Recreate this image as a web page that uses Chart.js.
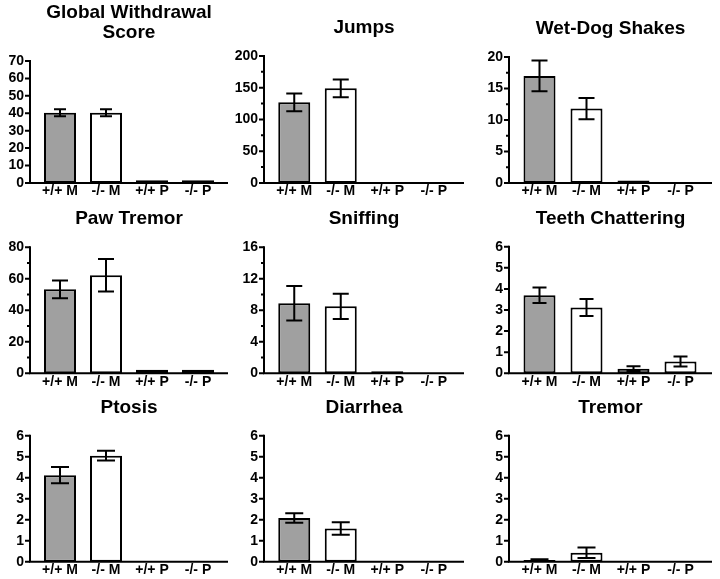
<!DOCTYPE html>
<html><head><meta charset="utf-8">
<script src="https://cdn.jsdelivr.net/npm/chart.js@4"></script>
<style>
html,body{margin:0;padding:0;background:#fff;}
#wrap{position:relative;width:720px;height:579px;overflow:hidden;background:#fff;}
#wrap canvas{position:absolute;}
</style></head><body><div id="wrap"></div>
<script>
// ---- data ----
const categories = ['+/+ M', '-/- M', '+/+ P', '-/- P'];
const titles = [['Global Withdrawal', 'Score'], 'Jumps', 'Wet-Dog Shakes', 'Paw Tremor', 'Sniffing', 'Teeth Chattering', 'Ptosis', 'Diarrhea', 'Tremor'];
const globalMean = [40.3, 40.3, 1.5, 1.5];
const globalErr = [2, 2, 0, 0];
const jumpsMean = [127, 149, 0, 0];
const jumpsErr = [14, 14, 0, 0];
const wetDogMean = [17, 11.8, 0.4, 0];
const wetDogErr = [2.45, 1.7, 0, 0];
const pawMean = [53.3, 62.3, 2.2, 2.2];
const pawErr = [5.6, 10.3, 0, 0];
const sniffMean = [8.9, 8.5, 0.25, 0];
const sniffErr = [2.2, 1.6, 0, 0];
const teethMean = [3.7, 3.12, 0.22, 0.56];
const teethErr = [0.37, 0.4, 0.11, 0.24];
const ptosisMean = [4.12, 5.05, 0, 0];
const ptosisErr = [0.39, 0.23, 0, 0];
const diarrheaMean = [2.08, 1.58, 0, 0];
const diarrheaErr = [0.23, 0.3, 0, 0];
const tremorMean = [0.08, 0.43, 0, 0];
const tremorErr = [0.04, 0.25, 0, 0];
const means = [globalMean, jumpsMean, wetDogMean, pawMean, sniffMean, teethMean, ptosisMean, diarrheaMean, tremorMean];
const errs = [globalErr, jumpsErr, wetDogErr, pawErr, sniffErr, teethErr, ptosisErr, diarrheaErr, tremorErr];
const yMax = [70, 200, 20, 80, 16, 6, 6, 6, 6];
const yStep = [10, 50, 5, 20, 4, 1, 1, 1, 1];
const yMinor = [10, 25, 2.5, 10, 2, 1, 1, 1, 1];

// ---- layout (styles) ----
const colLeft = [0, 215, 460];
const colW = [240, 260, 260];
const rowTop = [0, 195, 385];
const X_AREA = 28;
const axisXAbs = [30, 264, 509];
const catWAbs = [46, 46.5, 47];
const axisEndAbs = [228, 464, 712];
const topAbs = [61, 56, 57, 247.3, 247.3, 246.7, 435.7, 435.7, 435.7];
const bottomAbs = [182.9, 373.3, 561.7];
const capW = [12, 16, 16, 16, 16, 14, 18, 18, 18];
const GRAY = '#a0a0a0';
const FONT = '"Liberation Sans", Arial, Helvetica, sans-serif';

const panelPlugin = {
  id: 'panel',
  afterDatasetsDraw(chart, args, o) {
    const ctx = chart.ctx, ys = chart.scales.y;
    const meta = chart.getDatasetMeta(0);
    ctx.save();
    ctx.strokeStyle = '#000';
    ctx.lineWidth = 2;
    ctx.lineCap = 'butt';
    // error bars
    o.err.forEach((e, i) => {
      if (!e) return;
      const v = o.mean[i];
      const cx = meta.data[i].x;
      const yt = ys.getPixelForValue(v + e), yb = ys.getPixelForValue(Math.max(v - e, 0));
      ctx.beginPath();
      ctx.moveTo(cx, yt); ctx.lineTo(cx, yb);
      ctx.moveTo(cx - o.cap / 2, yt); ctx.lineTo(cx + o.cap / 2, yt);
      ctx.moveTo(cx - o.cap / 2, yb); ctx.lineTo(cx + o.cap / 2, yb);
      ctx.stroke();
    });
    // axes
    const yTop = ys.getPixelForValue(o.max), y0 = ys.getPixelForValue(0);
    ctx.beginPath();
    ctx.moveTo(o.ax, yTop - 1); ctx.lineTo(o.ax, y0 + 1);
    ctx.moveTo(o.ax - 1, y0); ctx.lineTo(o.axEnd, y0);
    ctx.stroke();
    const n = Math.round(o.max / o.minor);
    ctx.beginPath();
    for (let k = 0; k <= n; k++) {
      const v = k * o.minor;
      const r = v / o.step;
      const major = Math.abs(r - Math.round(r)) < 1e-6;
      const len = major ? 5 : 3;
      const py = ys.getPixelForValue(v);
      ctx.moveTo(o.ax - len, py); ctx.lineTo(o.ax, py);
    }
    ctx.stroke();
    // title
    ctx.fillStyle = '#000';
    ctx.font = 'bold 19px ' + FONT;
    ctx.textAlign = 'center';
    ctx.textBaseline = 'alphabetic';
    const lines = Array.isArray(o.title) ? o.title : [o.title];
    const cx = (o.ax + o.axEnd) / 2;
    lines.forEach((t, i) => {
      ctx.fillText(t, cx, yTop - 23 - (lines.length - 1 - i) * 20);
    });
    ctx.restore();
  }
};

const wrap = document.getElementById('wrap');
for (let p = 0; p < 9; p++) {
  const c = p % 3, r = Math.floor(p / 3);
  const cv = document.createElement('canvas');
  const W = colW[c];
  const H = Math.round(bottomAbs[r] - rowTop[r] + X_AREA);
  cv.width = W; cv.height = H;
  cv.style.left = colLeft[c] + 'px';
  cv.style.top = rowTop[r] + 'px';
  cv.style.width = W + 'px'; cv.style.height = H + 'px';
  wrap.appendChild(cv);
  const ax = axisXAbs[c] - colLeft[c];
  const catStart = ax + 7;
  const catW = catWAbs[c];
  const padTop = topAbs[p] - rowTop[r];
  const xH = H - (bottomAbs[r] - rowTop[r]);
  const padRight = W - (catStart + 4 * catW);
  new Chart(cv, {
    type: 'bar',
    data: {
      labels: categories,
      datasets: [{
        data: means[p],
        backgroundColor: [GRAY, '#ffffff', GRAY, '#ffffff'],
        borderColor: '#000',
        borderWidth: 2,
        borderSkipped: false,
        barPercentage: 32 / catW,
        categoryPercentage: 1
      }]
    },
    options: {
      responsive: false,
      animation: false,
      devicePixelRatio: 1,
      layout: { padding: { top: padTop, right: padRight, left: 0, bottom: 0 } },
      plugins: {
        legend: { display: false },
        tooltip: { enabled: false },
        title: { display: false },
        panel: { mean: means[p], err: errs[p], max: yMax[p], step: yStep[p], minor: yMinor[p], ax: ax, axEnd: axisEndAbs[c] - colLeft[c], title: titles[p], cap: capW[p] }
      },
      scales: {
        x: {
          grid: { display: false, drawTicks: false },
          border: { display: false },
          ticks: { color: '#000', font: { family: FONT, size: 14, weight: 'bold' }, padding: 0, maxRotation: 0, minRotation: 0, autoSkip: false },
          afterFit: (s) => { s.height = xH; }
        },
        y: {
          min: 0, max: yMax[p],
          grid: { display: false, drawTicks: false },
          border: { display: false },
          ticks: { stepSize: yStep[p], autoSkip: false, color: '#000', font: { family: FONT, size: 14, weight: 'bold' }, padding: 13 },
          afterFit: (s) => { s.width = catStart; }
        }
      }
    },
    plugins: [panelPlugin]
  });
}
</script>
</body></html>
